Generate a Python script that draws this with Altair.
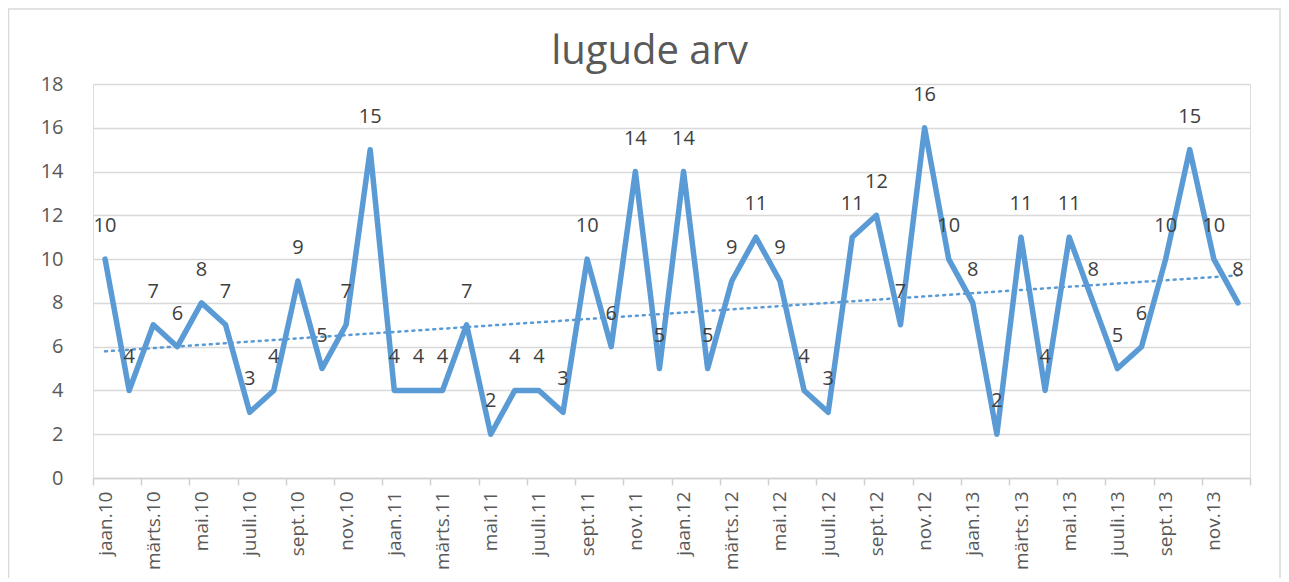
import altair as alt
import pandas as pd

months = ["jaan", "veebr", "märts", "apr", "mai", "juuni",
          "juuli", "aug", "sept", "okt", "nov", "dets"]
years = ["10", "11", "12", "13"]
categories = [f"{m}.{y}" for y in years for m in months]

values = [10, 4, 7, 6, 8, 7, 3, 4, 9, 5, 7, 15,
          4, 4, 4, 7, 2, 4, 4, 3, 10, 6, 14, 5,
          14, 5, 9, 11, 9, 4, 3, 11, 12, 7, 16, 10,
          8, 2, 11, 4, 11, 8, 5, 6, 10, 15, 10, 8]

tick_labels = categories[::2]
chart_title = "lugude arv"

df = pd.DataFrame({
    "kuu": categories,
    "i": list(range(len(categories))),
    "arv": values,
})
df["pos"] = df["i"] + 0.5

W, H = 1157, 394
n = len(categories)
band = W / n
FONT = "Open Sans"
GREY = "#595959"
BLUE = "#5B9BD5"

label_js = "[" + ",".join(f"'{t}'" for t in tick_labels) + "]"

x_enc = alt.X("pos:Q",
              scale=alt.Scale(domain=[0, n], nice=False, zero=False),
              axis=alt.Axis(values=list(range(0, n + 1, 2)),
                            labelExpr=f"datum.value < {n} ? {label_js}[datum.value/2] : ''",
                            labelAngle=-90, labelAlign="right", labelBaseline="middle",
                            labelOffset=band / 2, labelPadding=6,
                            labelFont=FONT, labelFontSize=19, labelColor=GREY,
                            domainColor="#d0d0d0", domainWidth=1.5,
                            tickColor="#d0d0d0", tickWidth=1.5, tickSize=7,
                            grid=False, title=None, labelOverlap=False))
y_enc = alt.Y("arv:Q",
              scale=alt.Scale(domain=[0, 18], nice=False),
              axis=alt.Axis(values=list(range(0, 19, 2)), grid=True,
                            gridColor="#d9d9d9", gridWidth=1.5,
                            domain=False, ticks=False, labelPadding=30,
                            labelFont=FONT, labelFontSize=20, labelColor=GREY,
                            title=None))

base = alt.Chart(df)

line = base.mark_line(color=BLUE, strokeWidth=5.5, strokeJoin="round",
                      strokeCap="round").encode(x=x_enc, y=y_enc)

trend = base.transform_regression("pos", "arv").mark_line(
    color=BLUE, strokeWidth=2.5, strokeDash=[2, 5], strokeCap="round"
).encode(x="pos:Q", y="arv:Q")

labels = base.mark_text(font=FONT, fontSize=20, color="#404040",
                        baseline="middle", dy=-33).encode(
    x="pos:Q", y="arv:Q", text="arv:Q")

one = alt.Data(values=[{"t": chart_title}])

border = alt.Chart(one).mark_rect(
    fill=None, stroke="#d9d9d9", strokeWidth=1.5).encode(
    x=alt.value(-84.5), x2=alt.value(1187), y=alt.value(-75), y2=alt.value(600))

title = alt.Chart(one).mark_text(
    font=FONT, fontSize=40, color=GREY, align="center", baseline="alphabetic"
).encode(x=alt.value(W / 2 - 22), y=alt.value(-20), text="t:N")

chart = alt.layer(border, trend, line, labels, title).properties(
    width=W, height=H,
    autosize=alt.AutoSizeParams(type="none"),
    padding={"left": 85, "top": 76, "right": 31, "bottom": 100},
).configure_view(stroke=None).configure(background="white")

chart.save("out.html", embed_options={"renderer": "svg", "actions": False})
